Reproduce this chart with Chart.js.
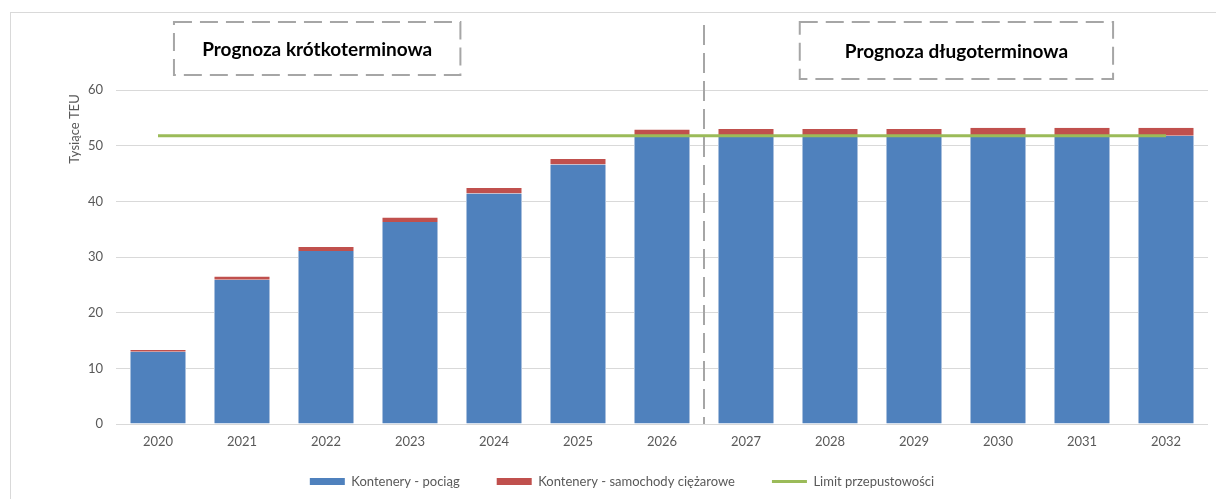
<!DOCTYPE html>
<html>
<head>
<meta charset="utf-8">
<script src="https://cdn.jsdelivr.net/npm/chart.js@4.4.1/dist/chart.umd.min.js"></script>
<style>
    html, body { margin: 0; padding: 0; background: #fff; overflow: hidden; }
    #wrap { position: relative; width: 1216px; height: 499px; }
    #frame { position: absolute; left: 10px; top: 12px; width: 1300px; height: 600px; border-left: 1px solid #d9d9d9; border-top: 1px solid #d9d9d9; }
    canvas { position: absolute; left: 0; top: 0; }
</style>
</head>
<body>
<div id="wrap">
    <div id="frame"></div>
    <canvas id="teuChart" width="1216" height="499"></canvas>
</div>
<script>
const years = ["2020", "2021", "2022", "2023", "2024", "2025", "2026", "2027", "2028", "2029", "2030", "2031", "2032"];
const trainTeu = [13.0, 25.9, 31.1, 36.3, 41.4, 46.6, 51.7, 51.7, 51.7, 51.7, 51.7, 51.7, 51.8];
const truckTeu = [0.3, 0.6, 0.7, 0.8, 1.0, 1.0, 1.2, 1.3, 1.3, 1.3, 1.5, 1.5, 1.4];
const capacityLimit = [51.8, 51.8, 51.8, 51.8, 51.8, 51.8, 51.8, 51.8, 51.8, 51.8, 51.8, 51.8, 51.8];

const yTicks = { min: 0, max: 60, step: 10 };
const axisTitle = "Tysiące TEU";
const periodBoxes = [
    { label: "Prognoza krótkoterminowa", from: 0.19, to: 3.6, top: 22, bottom: 75 },
    { label: "Prognoza długoterminowa", from: 7.64, to: 11.37, top: 22, bottom: 79 }
];

const FONT = "Lato, 'Open Sans', sans-serif";
const GREY = "#595959";

// dashed boxes, period divider and the rotated axis title
const annotations = {
    id: "annotations",
    afterLayout(chart) {
        // pull the legend row up, it sits closer to the axis labels than chart.js would put it
        chart.legend.top = 438;
    },
    afterDraw(chart) {
        const ctx = chart.ctx;
        const x = chart.scales.x;
        const area = chart.chartArea;
        ctx.save();

        ctx.strokeStyle = "#a6a6a6";
        ctx.lineWidth = 2;
        ctx.setLineDash([20, 8]);
        const splitX = (x.getPixelForValue(6) + x.getPixelForValue(7)) / 2;
        ctx.beginPath();
        ctx.moveTo(splitX, 25);
        ctx.lineTo(splitX, area.bottom);
        ctx.stroke();

        ctx.setLineDash([18, 8]);
        periodBoxes.forEach(b => {
            const l = x.getPixelForValue(b.from);
            const r = x.getPixelForValue(b.to);
            ctx.strokeRect(l, b.top, r - l, b.bottom - b.top);
            ctx.fillStyle = "#000";
            ctx.font = "bold 19px " + FONT;
            ctx.textAlign = "center";
            ctx.textBaseline = "middle";
            ctx.fillText(b.label, (l + r) / 2, (b.top + b.bottom) / 2 + 1);
        });

        ctx.setLineDash([]);
        ctx.translate(75, 129);
        ctx.rotate(-Math.PI / 2);
        ctx.fillStyle = GREY;
        ctx.font = "13px " + FONT;
        ctx.textAlign = "center";
        ctx.textBaseline = "middle";
        ctx.fillText(axisTitle, 0, 0);
        ctx.restore();
    }
};

const legendStyles = ["rect", "rect", "line"];

new Chart(document.getElementById("teuChart"), {
    type: "bar",
    data: {
        labels: years,
        datasets: [
            {
                label: "Kontenery - pociąg",
                data: trainTeu,
                backgroundColor: "#4F81BD",
                borderColor: "#a9c0de",
                borderWidth: { left: 1, right: 1, top: 0, bottom: 0 },
                order: 1
            },
            {
                label: "Kontenery - samochody ciężarowe",
                data: truckTeu,
                backgroundColor: "#C0504D",
                borderColor: "#e0a8a6",
                borderWidth: { left: 1, right: 1, top: 0, bottom: 0 },
                order: 1
            },
            {
                type: "line",
                label: "Limit przepustowości",
                data: capacityLimit,
                borderColor: "#9BBB59",
                backgroundColor: "#9BBB59",
                borderWidth: 3,
                pointRadius: 0,
                order: 0
            }
        ]
    },
    options: {
        responsive: false,
        animation: false,
        devicePixelRatio: 1,
        layout: { padding: { top: 90, left: 36, right: 8, bottom: 0 } },
        datasets: {
            bar: { barPercentage: 1, categoryPercentage: 0.667 }
        },
        scales: {
            x: {
                stacked: true,
                grid: { display: false, drawTicks: false },
                border: { display: false },
                ticks: { color: GREY, font: { family: FONT, size: 13 }, padding: 10 },
                afterFit(scale) { scale.height = 25; }
            },
            y: {
                stacked: true,
                min: yTicks.min,
                max: yTicks.max,
                grid: { color: "#d9d9d9", lineWidth: 1, drawTicks: false },
                border: { display: false },
                ticks: { stepSize: yTicks.step, color: GREY, font: { family: FONT, size: 13 }, padding: 13 },
                afterFit(scale) { scale.width = 80; }
            }
        },
        plugins: {
            tooltip: { enabled: false },
            legend: {
                position: "bottom",
                maxHeight: 50,
                labels: {
                    color: GREY,
                    font: { family: FONT, size: 13 },
                    usePointStyle: true,
                    pointStyleWidth: 35,
                    boxHeight: 7,
                    padding: 37,
                    sort: (a, b) => a.datasetIndex - b.datasetIndex,
                    generateLabels(chart) {
                        const items = Chart.defaults.plugins.legend.labels.generateLabels(chart);
                        items.forEach(item => {
                            item.pointStyle = legendStyles[item.datasetIndex];
                            if (item.pointStyle === "line") item.lineWidth = 3;
                            else item.lineWidth = 0;
                        });
                        return items;
                    }
                }
            }
        }
    },
    plugins: [annotations]
});
</script>
</body>
</html>
